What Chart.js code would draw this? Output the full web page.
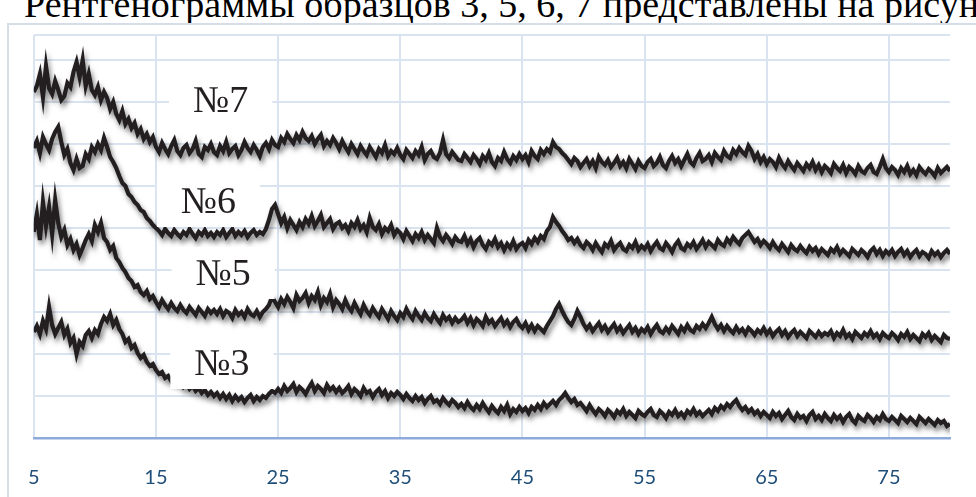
<!DOCTYPE html>
<html>
<head>
<meta charset="utf-8">
<script src="https://cdn.jsdelivr.net/npm/chart.js@4.4.1/dist/chart.umd.min.js"></script>
<style>
    html, body { margin: 0; padding: 0; background: #fff; overflow: hidden; }
    #wrap { position: relative; width: 976px; height: 497px; overflow: hidden; }
    #heading {
        position: absolute; left: 24px; top: -15px;
        font: 38px/38px 'Liberation Serif', serif; color: #000; white-space: nowrap;
    }
    #frame { position: absolute; left: 7px; top: 23px; width: 1200px; height: 600px; border: 2px solid #d6dde8; }
    #xrd { position: absolute; left: 0; top: 0; }
</style>
</head>
<body>
<div id="wrap">
    <div id="heading">Рентгенограммы образцов 3, 5, 6, 7 представлены на рисунке</div>
    <div id="frame"></div>
    <canvas id="xrd" width="976" height="497"></canvas>
</div>
<script>
// угол 2θ, градусы (шаг 0,25)
const twoTheta = [
    5, 5.25, 5.5, 5.75, 6, 6.25, 6.5, 6.75, 7, 7.25, 7.5, 7.75, 8, 8.25, 8.5, 8.75, 9, 9.25, 9.5, 9.75,
    10, 10.25, 10.5, 10.75, 11, 11.25, 11.5, 11.75, 12, 12.25, 12.5, 12.75, 13, 13.25, 13.5, 13.75, 14, 14.25, 14.5, 14.75,
    15, 15.25, 15.5, 15.75, 16, 16.25, 16.5, 16.75, 17, 17.25, 17.5, 17.75, 18, 18.25, 18.5, 18.75, 19, 19.25, 19.5, 19.75,
    20, 20.25, 20.5, 20.75, 21, 21.25, 21.5, 21.75, 22, 22.25, 22.5, 22.75, 23, 23.25, 23.5, 23.75, 24, 24.25, 24.5, 24.75,
    25, 25.25, 25.5, 25.75, 26, 26.25, 26.5, 26.75, 27, 27.25, 27.5, 27.75, 28, 28.25, 28.5, 28.75, 29, 29.25, 29.5, 29.75,
    30, 30.25, 30.5, 30.75, 31, 31.25, 31.5, 31.75, 32, 32.25, 32.5, 32.75, 33, 33.25, 33.5, 33.75, 34, 34.25, 34.5, 34.75,
    35, 35.25, 35.5, 35.75, 36, 36.25, 36.5, 36.75, 37, 37.25, 37.5, 37.75, 38, 38.25, 38.5, 38.75, 39, 39.25, 39.5, 39.75,
    40, 40.25, 40.5, 40.75, 41, 41.25, 41.5, 41.75, 42, 42.25, 42.5, 42.75, 43, 43.25, 43.5, 43.75, 44, 44.25, 44.5, 44.75,
    45, 45.25, 45.5, 45.75, 46, 46.25, 46.5, 46.75, 47, 47.25, 47.5, 47.75, 48, 48.25, 48.5, 48.75, 49, 49.25, 49.5, 49.75,
    50, 50.25, 50.5, 50.75, 51, 51.25, 51.5, 51.75, 52, 52.25, 52.5, 52.75, 53, 53.25, 53.5, 53.75, 54, 54.25, 54.5, 54.75,
    55, 55.25, 55.5, 55.75, 56, 56.25, 56.5, 56.75, 57, 57.25, 57.5, 57.75, 58, 58.25, 58.5, 58.75, 59, 59.25, 59.5, 59.75,
    60, 60.25, 60.5, 60.75, 61, 61.25, 61.5, 61.75, 62, 62.25, 62.5, 62.75, 63, 63.25, 63.5, 63.75, 64, 64.25, 64.5, 64.75,
    65, 65.25, 65.5, 65.75, 66, 66.25, 66.5, 66.75, 67, 67.25, 67.5, 67.75, 68, 68.25, 68.5, 68.75, 69, 69.25, 69.5, 69.75,
    70, 70.25, 70.5, 70.75, 71, 71.25, 71.5, 71.75, 72, 72.25, 72.5, 72.75, 73, 73.25, 73.5, 73.75, 74, 74.25, 74.5, 74.75,
    75, 75.25, 75.5, 75.75, 76, 76.25, 76.5, 76.75, 77, 77.25, 77.5, 77.75, 78, 78.25, 78.5, 78.75, 79, 79.25, 79.5, 79.75,
    80
];

// интенсивность (усл. ед., кривые смещены по вертикали)
const sample7 = [
    346, 352, 364, 341, 372, 350, 344, 357, 348, 338, 342, 355, 351, 366, 376, 361, 378, 352, 364, 348,
    343, 351, 338, 346, 340, 329, 336, 324, 318, 327, 314, 319, 310, 315, 304, 309, 299, 304, 296, 301,
    291, 286, 295, 289, 284, 292, 298, 287, 283, 290, 293, 285, 289, 297, 284, 281, 291, 288, 294, 286,
    283, 292, 287, 296, 285, 289, 292, 283, 288, 296, 290, 286, 293, 288, 282, 291, 295, 289, 298, 293,
    291, 300, 296, 304, 299, 295, 303, 298, 306, 300, 297, 302, 294, 299, 303, 292, 297, 293, 300, 295,
    289, 297, 291, 286, 294, 289, 284, 292, 287, 283, 291, 286, 281, 289, 285, 293, 282, 287, 284, 290,
    283, 279, 288, 284, 280, 287, 283, 291, 278, 284, 287, 281, 279, 285, 298, 284, 280, 286, 282, 278,
    277, 284, 280, 276, 283, 279, 274, 282, 278, 285, 276, 272, 280, 277, 286, 279, 275, 282, 278, 284,
    279, 283, 276, 287, 282, 279, 288, 284, 289, 286, 296, 291, 289, 285, 282, 278, 274, 280, 277, 271,
    275, 279, 272, 277, 270, 281, 276, 273, 278, 271, 275, 280, 272, 276, 270, 279, 274, 269, 277, 272,
    270, 276, 279, 272, 275, 281, 273, 270, 277, 282, 275, 279, 272, 278, 284, 276, 273, 280, 285, 277,
    279, 283, 276, 285, 281, 278, 287, 282, 280, 288, 284, 290, 286, 283, 292, 287, 279, 284, 276, 281,
    274, 279, 276, 271, 280, 274, 270, 277, 272, 268, 275, 271, 267, 274, 270, 276, 268, 273, 266, 272,
    269, 265, 274, 270, 267, 273, 265, 271, 268, 264, 272, 267, 265, 270, 273, 266, 264, 271, 279, 270,
    266, 271, 268, 263, 270, 266, 272, 264, 268, 263, 271, 267, 264, 269, 266, 262, 270, 265, 268, 271,
    267
];
const sample6 = [
    290, 297, 285, 301, 294, 288, 299, 306, 311, 296, 283, 289, 275, 268, 279, 270, 272, 284, 279, 291,
    286, 294, 288, 300, 291, 281, 276, 270, 262, 255, 252, 244, 241, 236, 233, 228, 226, 220, 217, 213,
    210, 207, 203, 209, 205, 202, 208, 204, 201, 206, 203, 209, 204, 200, 206, 203, 208, 202, 205, 201,
    206, 203, 208, 201, 205, 209, 202, 206, 203, 207, 201, 205, 208, 203, 206, 204, 209, 218, 229, 233,
    224, 215, 221, 210, 218, 213, 208, 216, 211, 219, 214, 222, 212, 217, 223, 211, 215, 219, 209, 214,
    216, 210, 213, 207, 215, 211, 218, 209, 213, 206, 220, 211, 208, 214, 204, 210, 207, 213, 203, 208,
    205, 199, 207, 202, 197, 204, 200, 206, 198, 203, 199, 195, 210, 201, 197, 203, 199, 194, 201, 197,
    196, 202, 194, 199, 191, 197, 200, 193, 189, 196, 193, 199, 191, 195, 188, 194, 190, 197, 189, 193,
    195, 190, 198, 194, 200, 196, 202, 199, 207, 211, 221, 216, 212, 207, 203, 198, 200, 195, 199, 193,
    190, 196, 193, 188, 195, 190, 186, 194, 191, 197, 188, 192, 195, 189, 187, 193, 190, 196, 188, 192,
    189, 194, 187, 192, 196, 190, 188, 195, 191, 186, 193, 197, 190, 188, 194, 191, 196, 189, 193, 198,
    191, 196, 193, 190, 198, 194, 192, 199, 195, 201, 197, 194, 200, 203, 206, 201, 196, 199, 193, 197,
    194, 190, 196, 191, 188, 194, 190, 186, 193, 189, 187, 192, 188, 185, 191, 187, 190, 184, 189, 186,
    183, 189, 186, 191, 184, 188, 185, 182, 189, 186, 183, 188, 185, 181, 187, 190, 184, 188, 182, 187,
    184, 188, 182, 186, 189, 183, 187, 181, 185, 188, 182, 186, 184, 180, 187, 183, 186, 181, 185, 188,
    184
];
const sample5 = [
    206, 224, 198, 236, 212, 231, 204, 238, 215, 201, 208, 193, 199, 188, 194, 183, 190, 198, 204, 197,
    213, 206, 215, 200, 196, 188, 192, 180, 176, 170, 166, 160, 157, 151, 153, 146, 143, 147, 139, 142,
    136, 131, 138, 133, 129, 135, 130, 127, 133, 128, 125, 131, 127, 123, 130, 126, 122, 129, 125, 128,
    124, 129, 122, 127, 125, 120, 128, 123, 126, 121, 129, 124, 122, 127, 121, 126, 129, 133, 141, 136,
    131, 139, 134, 141, 136, 130, 143, 137, 140, 145, 135, 142, 138, 146, 133, 140, 136, 144, 131, 138,
    134, 129, 138, 131, 127, 135, 129, 124, 133, 127, 123, 130, 125, 121, 129, 124, 119, 127, 122, 118,
    125, 121, 129, 123, 119, 127, 122, 118, 125, 120, 117, 124, 119, 115, 123, 118, 121, 115, 120, 116,
    118, 122, 115, 120, 113, 119, 116, 112, 121, 115, 118, 112, 116, 120, 113, 117, 111, 116, 119, 113,
    110, 115, 108, 113, 107, 112, 109, 106, 112, 117, 122, 129, 134, 127, 121, 116, 113, 119, 127, 121,
    114, 109, 113, 107, 111, 115, 108, 112, 106, 110, 114, 107, 111, 105, 109, 113, 106, 110, 104, 109,
    106, 111, 104, 109, 113, 107, 105, 110, 106, 112, 108, 104, 111, 107, 113, 108, 106, 112, 109, 114,
    110, 115, 121, 114, 109, 113, 107, 112, 108, 105, 111, 106, 109, 104, 110, 107, 103, 108, 105, 110,
    104, 108, 102, 106, 109, 103, 107, 101, 105, 108, 102, 106, 103, 100, 107, 104, 101, 106, 102, 105,
    103, 107, 100, 105, 102, 108, 101, 104, 99, 106, 103, 100, 105, 102, 107, 101, 104, 99, 105, 102,
    100, 105, 102, 98, 104, 101, 106, 99, 103, 100, 97, 104, 101, 105, 98, 102, 99, 96, 103, 100,
    99
];
const sample3 = [
    106, 112, 104, 117, 109, 131, 113, 104, 110, 116, 103, 109, 95, 100, 84, 96, 92, 103, 107, 100,
    108, 104, 114, 121, 117, 124, 113, 118, 109, 104, 96, 99, 90, 93, 85, 80, 83, 76, 72, 74,
    68, 64, 66, 60, 62, 57, 59, 55, 57, 51, 54, 49, 52, 47, 50, 45, 48, 43, 46, 42,
    45, 40, 44, 39, 43, 37, 42, 38, 41, 36, 40, 43, 37, 41, 38, 42, 40, 44, 47, 45,
    49, 45, 52, 47, 50, 54, 46, 51, 48, 44, 50, 55, 47, 52, 49, 45, 53, 48, 51, 46,
    50, 45, 48, 52, 44, 49, 46, 42, 50, 45, 47, 41, 46, 49, 43, 47, 40, 45, 42, 46,
    43, 39, 44, 40, 37, 42, 38, 41, 35, 39, 42, 36, 38, 34, 40, 36, 33, 38, 35, 31,
    34, 30, 36, 31, 28, 33, 29, 35, 30, 26, 32, 28, 25, 31, 27, 33, 24, 29, 26, 31,
    27, 30, 25, 31, 28, 33, 29, 35, 31, 34, 37, 33, 38, 41, 45, 40, 36, 39, 33, 35,
    31, 27, 33, 28, 24, 29, 26, 22, 28, 25, 21, 27, 24, 29, 22, 26, 23, 20, 27, 24,
    22, 26, 29, 23, 21, 27, 24, 20, 26, 23, 28, 22, 25, 21, 27, 24, 29, 23, 26, 22,
    25, 28, 24, 30, 27, 32, 29, 34, 31, 35, 38, 32, 28, 31, 26, 29, 24, 27, 22, 26,
    23, 20, 26, 22, 25, 19, 23, 27, 21, 18, 24, 20, 22, 17, 23, 26, 19, 22, 18, 24,
    20, 17, 23, 19, 22, 16, 21, 24, 18, 15, 22, 19, 17, 23, 20, 16, 21, 18, 24, 19,
    17, 21, 18, 15, 22, 19, 16, 20, 17, 14, 21, 18, 15, 19, 16, 13, 18, 15, 17, 12,
    14
];

const sampleNames = ['№7', '№6', '№5', '№3'];
const xTicks = [5, 15, 25, 35, 45, 55, 65, 75];
const yGridValues = [0, 42, 84, 126, 168, 210, 252, 294, 336, 378, 403];

const curveColor = '#231f20';
const gridColor = '#dae3f0';

function toPoints(values) {
    return values.map((v, i) => ({ x: twoTheta[i], y: v }));
}

// тень под кривыми и подписи образцов на белых плашках
const xrdDecor = {
    id: 'xrdDecor',
    beforeDatasetsDraw(chart) {
        const c = chart.ctx;
        c.save();
        c.shadowColor = 'rgba(0, 0, 0, 0.5)';
        c.shadowBlur = 5;
        c.shadowOffsetX = 2;
        c.shadowOffsetY = 4;
    },
    afterDatasetsDraw(chart, args, opts) {
        const c = chart.ctx;
        c.restore();
        const xs = chart.scales.x, ys = chart.scales.y;
        c.save();
        c.font = '38px "Liberation Serif", serif';
        c.textAlign = 'center';
        c.textBaseline = 'middle';
        opts.anchors.forEach((a, i) => {
            const px = xs.getPixelForValue(a.x);
            const py = ys.getPixelForValue(a.y);
            const w = c.measureText(sampleNames[i]).width;
            c.fillStyle = '#fff';
            c.fillRect(px - w / 2 - 24, py - 26, w + 48, 52);
            c.fillStyle = curveColor;
            c.fillText(sampleNames[i], px, py + 2);
        });
        c.restore();
    }
};

const series = [sample7, sample6, sample5, sample3];

new Chart(document.getElementById('xrd'), {
    type: 'line',
    data: {
        datasets: series.map((s, i) => ({
            label: sampleNames[i],
            data: toPoints(s),
            borderColor: curveColor,
            borderWidth: 4.2,
            pointRadius: 0,
            tension: 0,
            fill: false
        }))
    },
    options: {
        responsive: false,
        animation: false,
        layout: { padding: { left: 30, right: 26, top: 35, bottom: 0 } },
        plugins: {
            legend: { display: false },
            tooltip: { enabled: false },
            xrdDecor: {
                anchors: [
                    { x: 20.3, y: 338 },
                    { x: 19.3, y: 237 },
                    { x: 20.5, y: 165 },
                    { x: 20.4, y: 75 }
                ]
            }
        },
        scales: {
            x: {
                type: 'linear',
                min: 5,
                max: 80,
                afterBuildTicks: s => { s.ticks = xTicks.map(v => ({ value: v })); },
                afterFit: s => { s.height = 59; },
                grid: { color: gridColor, lineWidth: 2, drawTicks: false },
                border: { display: true, color: '#8eaadb', width: 2.5 },
                ticks: {
                    color: '#1f4e79',
                    font: { family: 'Lato', size: 20 },
                    padding: 28,
                    maxRotation: 0,
                    autoSkip: false
                }
            },
            y: {
                min: 0,
                max: 403,
                afterBuildTicks: s => { s.ticks = yGridValues.map(v => ({ value: v })); },
                grid: { color: gridColor, lineWidth: 2, drawTicks: false },
                border: { display: false },
                ticks: { display: false }
            }
        }
    },
    plugins: [xrdDecor]
});
</script>
</body>
</html>
